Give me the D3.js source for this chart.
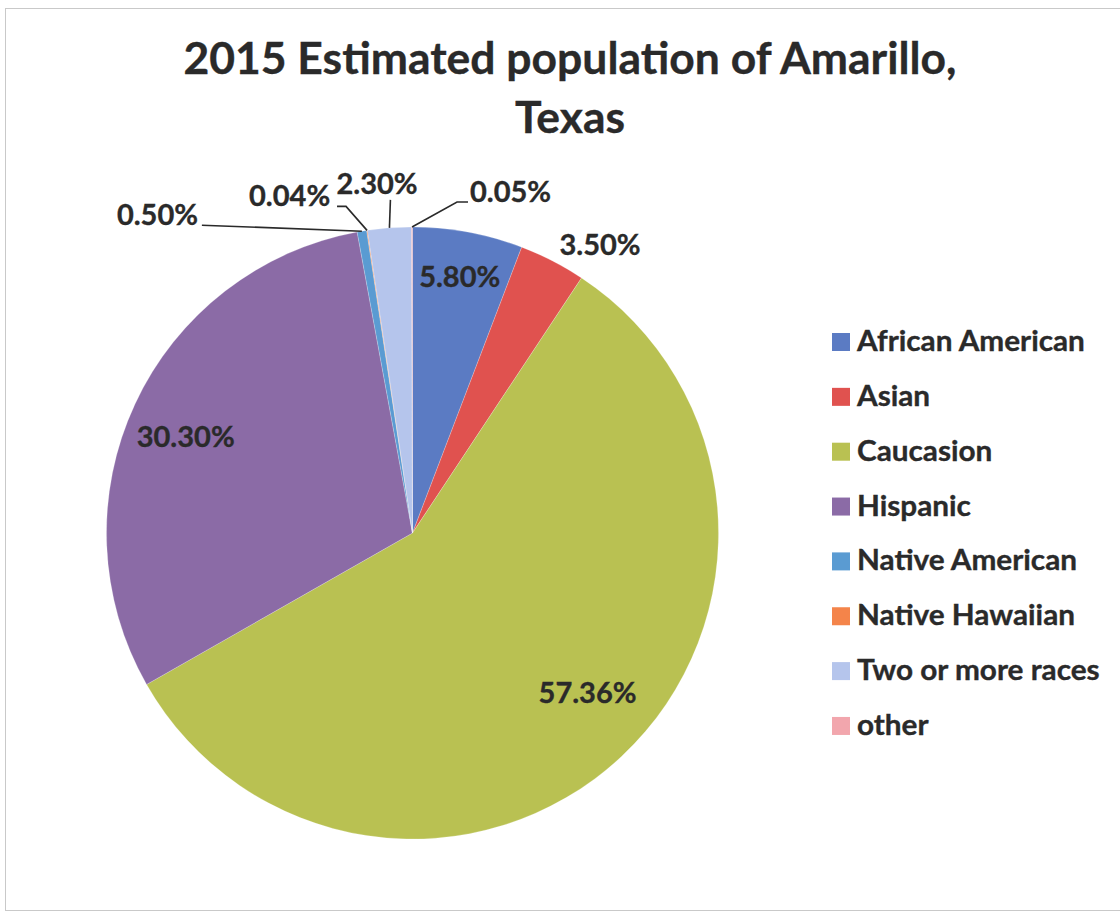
<!DOCTYPE html>
<html>
<head>
<meta charset="utf-8">
<script src="https://cdn.jsdelivr.net/npm/d3@7"></script>
<style>
  html, body { margin: 0; padding: 0; background: #ffffff; }
  svg { display: block; }
  text { font-family: Lato, "Open Sans", "Noto Sans", sans-serif; font-weight: 700; fill: #2a2a2a;
         stroke: #2a2a2a; stroke-width: 0.35; }
</style>
</head>
<body>
<script>
// Population share by race/ethnicity (percent)
const categories = ["African American", "Asian", "Caucasion", "Hispanic",
                    "Native American", "Native Hawaiian", "Two or more races", "other"];
const shares = [5.80, 3.50, 57.36, 30.30, 0.50, 0.04, 2.30, 0.05];
const shareLabels = ["5.80%", "3.50%", "57.36%", "30.30%", "0.50%", "0.04%", "2.30%", "0.05%"];
const sliceColors = ["#5b7bc3", "#e0524f", "#b9c152", "#8b6ba6",
                     "#5a9bd2", "#f4844a", "#b5c5ec", "#f2a6ad"];
const titleLines = ["2015 Estimated population of Amarillo,", "Texas"];

const W = 1120, H = 913;
const cx = 412.5, cy = 533, R = 306;

// Label placement: inside labels sit on the slice bisector at a fraction of R;
// outside labels get a text anchor (offset from the slice's rim point) plus an elbow.
const labelLayout = [
  { inside: true, rf: 0.85 },
  { inside: false, text: [7, -6], anchor: "start", leader: false },
  { inside: true, rf: 0.775, dAng: -4.5 },
  { inside: true, rf: 0.805, dAng: -2 },
  { inside: false, text: [-245, -6], anchor: "start", leader: true, start: [-160, -6], elbow: [-160, -6] },
  { inside: false, text: [-118, -24], anchor: "start", leader: true, start: [-30, -24], elbow: [-21, -24] },
  { inside: false, text: [-53, -34], anchor: "start", leader: true, start: [1, -28], elbow: [1, -28] },
  { inside: false, text: [58, -25], anchor: "start", leader: true, start: [56, -25], elbow: [45, -25] }
];

const svg = d3.select("body").append("svg").attr("width", W).attr("height", H);

// chart frame
svg.append("rect")
  .attr("x", 5.5).attr("y", 8.5).attr("width", W + 20).attr("height", 902)
  .attr("fill", "none").attr("stroke", "#c9c9c9").attr("stroke-width", 1);

// adjust glyph widths slightly to approximate the chart font
function squeeze(sel, k) {
  sel.each(function () {
    const w = this.getComputedTextLength();
    d3.select(this).attr("textLength", w * k).attr("lengthAdjust", "spacingAndGlyphs");
  });
}

// title
const title = svg.append("g");
title.selectAll("text").data(titleLines).join("text")
  .attr("x", 570).attr("y", (d, i) => 74 + i * 59)
  .attr("text-anchor", "middle")
  .attr("font-size", 44)
  .attr("fill", "#262626")
  .attr("stroke", "#262626")
  .attr("stroke-width", 0.6)
  .text(d => d)
  .call(squeeze, 1.01);

// pie
const pie = d3.pie().sort(null).value(d => d)(shares);
const arc = d3.arc().innerRadius(0).outerRadius(R);
const rimArc = d3.arc().innerRadius(R).outerRadius(R);

const g = svg.append("g").attr("transform", `translate(${cx},${cy})`);
g.selectAll("path.slice").data(pie).join("path")
  .attr("class", "slice")
  .attr("d", arc)
  .attr("fill", (d, i) => sliceColors[i])
  .attr("stroke", "rgba(255,255,255,0.35)")
  .attr("stroke-width", 0.6);

// data labels
pie.forEach((d, i) => {
  const L = labelLayout[i];
  const mid = (d.startAngle + d.endAngle) / 2;
  if (L.inside) {
    const a = mid + (L.dAng || 0) * Math.PI / 180;
    const r = R * L.rf;
    g.append("text")
      .attr("x", r * Math.sin(a)).attr("y", -r * Math.cos(a) + 10)
      .attr("text-anchor", "middle")
      .attr("font-size", 29)
      .text(shareLabels[i])
      .call(squeeze, 1.0);
  } else {
    const rim = rimArc.centroid(d);
    g.append("text")
      .attr("x", rim[0] + L.text[0]).attr("y", rim[1] + L.text[1])
      .attr("text-anchor", L.anchor)
      .attr("font-size", 29)
      .text(shareLabels[i])
      .call(squeeze, 1.0);
    if (L.leader) {
      const p0 = [rim[0] + L.start[0], rim[1] + L.start[1]];
      const p1 = [rim[0] + L.elbow[0], rim[1] + L.elbow[1]];
      g.append("path")
        .attr("d", d3.line()([p0, p1, rim]))
        .attr("fill", "none")
        .attr("stroke", "#2a2a2a")
        .attr("stroke-width", 1.6);
    }
  }
});

// legend
const legend = svg.append("g").attr("transform", "translate(832,333)");
const rows = legend.selectAll("g").data(categories).join("g")
  .attr("transform", (d, i) => `translate(0,${i * 54.85})`);
rows.append("rect")
  .attr("width", 18).attr("height", 18)
  .attr("fill", (d, i) => sliceColors[i]);
rows.append("text")
  .attr("x", 25).attr("y", 18)
  .attr("font-size", 29)
  .text(d => d)
  .call(squeeze, 1.025);
</script>
</body>
</html>
